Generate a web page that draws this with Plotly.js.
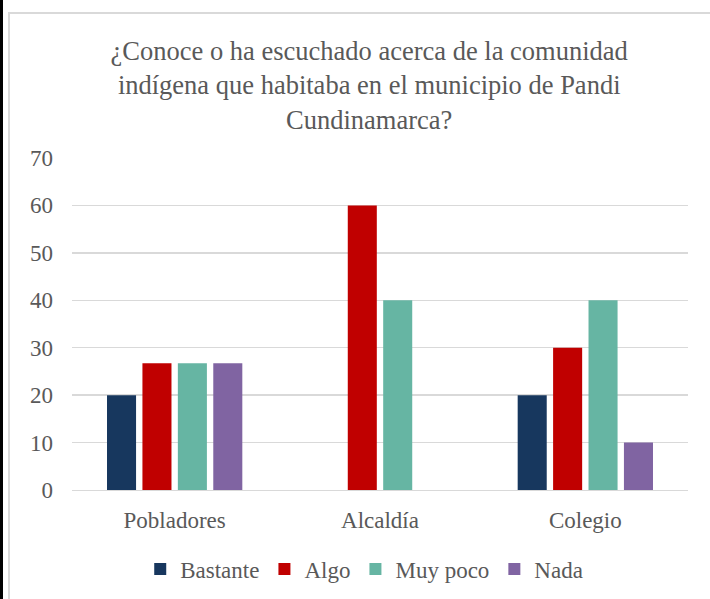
<!DOCTYPE html>
<html>
<head>
<meta charset="utf-8">
<script src="https://cdn.plot.ly/plotly-3.0.1.min.js"></script>
<style>
  html, body { margin: 0; padding: 0; background: #fff; }
  #wrap { position: relative; width: 710px; height: 599px; overflow: hidden; }
  #chart { position: absolute; left: 0; top: 0; width: 710px; height: 599px; }
  #edge { position: absolute; left: 0; top: 0; width: 3px; height: 599px; background: #000; }
  #frame { position: absolute; left: 8px; top: 12px; width: 720px; height: 600px;
           border-top: 2px solid #d9d9d9; border-left: 2px solid #d9d9d9; pointer-events: none; }
</style>
</head>
<body>
<div id="wrap">
  <div id="chart"></div>
  <div id="edge"></div>
  <div id="frame"></div>
</div>
<script>
const categories = ["Pobladores", "Alcaldía", "Colegio"];
const seriesNames = ["Bastante", "Algo", "Muy poco", "Nada"];
const bastante = [20, 0, 20];
const algo = [26.7, 60, 30];
const muyPoco = [26.7, 40, 40];
const nada = [26.7, 0, 10];
const yTicks = [0, 10, 20, 30, 40, 50, 60, 70];
const colors = ["#17375E", "#C00000", "#66B5A3", "#8064A2"];

const values = [bastante, algo, muyPoco, nada];
const traces = values.map((v, i) => ({
  type: "bar",
  name: seriesNames[i],
  x: categories,
  y: v,
  marker: { color: colors[i] },
  hoverinfo: "none"
}));

const serif = "'Liberation Serif', 'Times New Roman', 'DejaVu Serif', serif";
const layout = {
  width: 710,
  height: 599,
  margin: { l: 72, r: 22, t: 158, b: 109, autoexpand: false },
  paper_bgcolor: "#ffffff",
  plot_bgcolor: "#ffffff",
  font: { family: serif, color: "#595959", size: 23 },
  title: {
    text: "¿Conoce o ha escuchado acerca de la comunidad<br>indígena que habitaba en el municipio de Pandi<br>Cundinamarca?",
    font: { family: serif, size: 26.5, color: "#595959" },
    xref: "container", x: 0.52, xanchor: "center",
    yref: "container", y: 0.9, yanchor: "top"
  },
  barmode: "group",
  bargap: 0.31,
  bargroupgap: 0.18,
  xaxis: {
    type: "category",
    showgrid: false,
    showline: true,
    linecolor: "#d9d9d9",
    linewidth: 1,
    ticks: "",
    ticklabelstandoff: 9,
    tickfont: { family: serif, size: 23, color: "#595959" }
  },
  yaxis: {
    range: [0, 70],
    tickvals: yTicks,
    ticktext: yTicks.map(String),
    showgrid: true,
    gridcolor: "#d9d9d9",
    gridwidth: 1.3,
    zeroline: false,
    showline: false,
    ticks: "",
    ticklabelstandoff: 18,
    tickfont: { family: serif, size: 23, color: "#595959" }
  },
  legend: {
    orientation: "h",
    xref: "container", x: 0.513, xanchor: "center",
    yref: "container", y: 0.05, yanchor: "middle",
    font: { family: serif, size: 23, color: "#595959" },
    itemwidth: 30,
    traceorder: "normal"
  },
  showlegend: true
};

Plotly.newPlot("chart", traces, layout, { displayModeBar: false, staticPlot: true });
</script>
</body>
</html>
